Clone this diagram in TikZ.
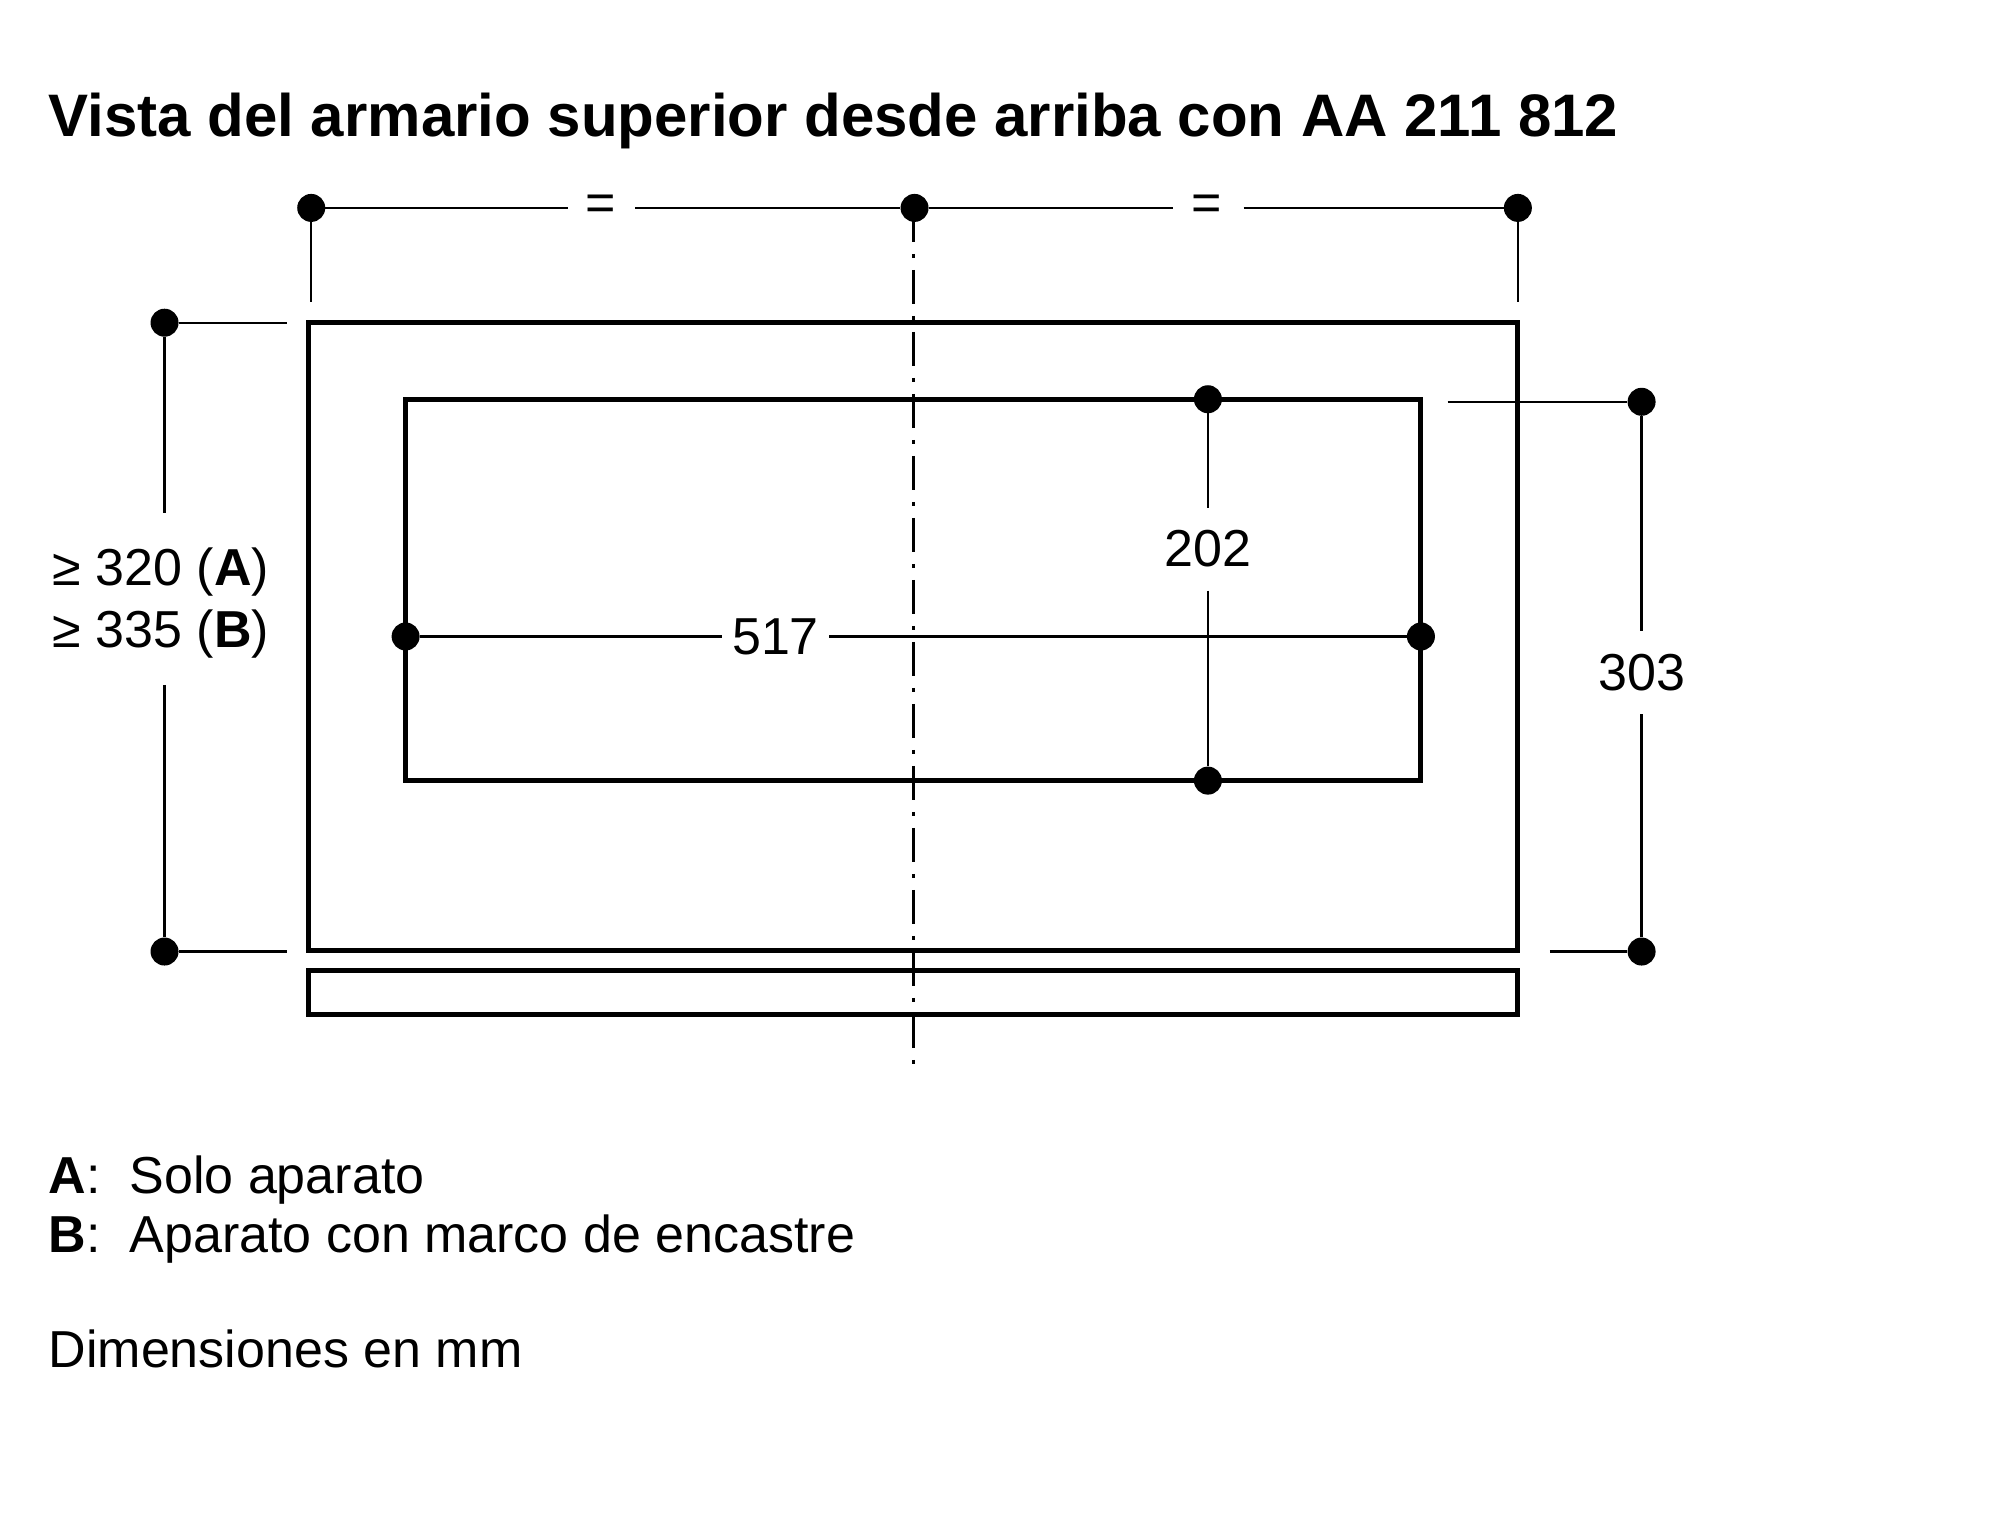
\documentclass[tikz,border=0pt]{standalone}
\usepackage{fontspec}
\setmainfont{Liberation Sans}
\begin{document}
\begin{tikzpicture}[x=1.2755pt,y=-1.2755pt,
  dot/.style={circle,fill=black,inner sep=0pt,minimum size=28pt},
  dimline/.style={line width=2.4pt},
  body/.style={line width=5pt},
  lbl/.style={font=\fontsize{52}{60}\selectfont,inner sep=0pt},
  cline/.style={line width=3.5pt,dash pattern=on 34pt off 12pt on 4pt off 12pt}]
\useasboundingbox (0,0) rectangle (1568,1204);
\node[anchor=base west,inner sep=0pt,font=\fontsize{60}{66}\selectfont\bfseries] (title) at (38,107) {Vista del armario superior desde arriba con AA 211 812};
% top dimension
\node[dot] (t1) at (244,163) {};
\node[dot] (t2) at (717,163) {};
\node[dot] (t3) at (1190,163) {};
\node[lbl] (eq1) at (471,163) {=};
\node[lbl] (eq2) at (946,163) {=};
\draw[dimline] (t1) -- (445,163) (498,163) -- (t2) -- (920,163) (975,163) -- (t3);
\draw[dimline] (t1) -- (244,237) (t3) -- (1190,237);
% centerline
\draw[cline] (716,163) -- (716,835);
% bodies
\draw[body] (242,253) rectangle (1190,745);
\draw[body] (242,761) rectangle (1190,795);
\draw[body] (318,313) rectangle (1114,612);
% 517
\node[dot] (w1) at (318,499) {};
\node[dot] (w2) at (1114,499) {};
\node[lbl,inner xsep=10pt] (w) at (608,499) {517};
\draw[dimline] (w1) -- (w) -- (w2);
% 202
\node[dot] (h1) at (947,313) {};
\node[dot] (h2) at (947,612) {};
\node[lbl] (h) at (947,430) {202};
\draw[dimline] (h1) -- (947,398) (947,463) -- (h2);
% 303
\node[dot] (r1) at (1287,315) {};
\node[dot] (r2) at (1287,746) {};
\node[lbl] (r) at (1287,527) {303};
\draw[dimline] (r1) -- (1287,495) (1287,560) -- (r2);
\draw[dimline] (1135,315) -- (r1) (1215,746) -- (r2);
% left
\node[dot] (l1) at (129,253) {};
\node[dot] (l2) at (129,746) {};
\node[lbl,align=center] (l) at (126,473) {≥ 320 (\textbf{A})\\[2pt]≥ 335 (\textbf{B})};
\draw[dimline] (l1) -- (129,402) (129,537) -- (l2);
\draw[dimline] (l1) -- (225,253) (l2) -- (225,746);
% legend
\node[lbl,anchor=base west] (la) at (38,936) {\textbf{A}:\ \ Solo aparato};
\node[lbl,anchor=base west] (lb) at (38,982) {\textbf{B}:\ \ Aparato con marco de encastre};
\node[lbl,anchor=base west] (ld) at (38,1072) {Dimensiones en mm};
\end{tikzpicture}
\end{document}
